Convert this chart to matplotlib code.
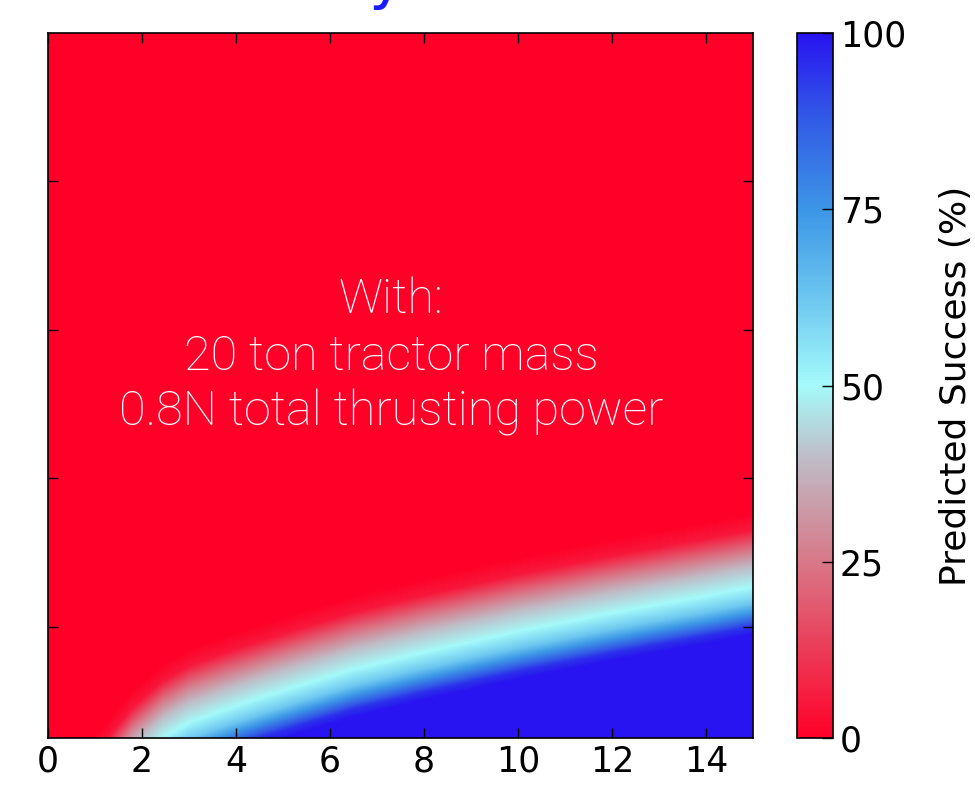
import numpy as np
import matplotlib.pyplot as plt
from matplotlib.colors import LinearSegmentedColormap

# 50% contour (x, y), y grows downwards (0 top, 95 bottom)
contour_x = [1.0, 1.8, 2.45, 3.0, 3.7, 4.5, 5.4, 6.5, 8.0, 10.0, 12.0, 14.0, 15.0]
contour_y = [104.7, 98.6, 95.0, 93.0, 91.4, 89.7, 87.9, 85.8, 83.5, 80.7, 78.2, 75.9, 74.7]
# success (%) against vertical distance from the contour, read at the right edge
profile_d = [-10.1, -7.7, -5.0, -2.7, 0.0, 2.2, 3.5, 5.4, 6.5]
profile_v = [0, 5, 25, 40, 50, 62, 75, 95, 100]

x_ticks = [0, 2, 4, 6, 8, 10, 12, 14]
y_ticks = [20, 40, 60, 80]
cbar_ticks = [0, 25, 50, 75, 100]

cmap_pos = [0.0, 0.25, 0.40, 0.50, 0.62, 0.75, 0.88, 1.0]
cmap_col = ["#ff0028", "#d87888", "#bebec8", "#a5fafa", "#6ec8f0", "#3c96e6", "#325ae6", "#2814f0"]
cmap = LinearSegmentedColormap.from_list("success", list(zip(cmap_pos, cmap_col)))

# build the field from the contour
xs = np.linspace(0, 15, 600)
ys = np.linspace(0, 95, 500)
X, Y = np.meshgrid(xs, ys)
yc = np.interp(xs, contour_x, contour_y)
slope0 = (contour_y[1] - contour_y[0]) / (contour_x[1] - contour_x[0])
yc = np.where(xs < contour_x[0], contour_y[0] + slope0 * (xs - contour_x[0]), yc)
d = Y - yc[None, :]
Z = np.interp(d, profile_d, profile_v)

plt.rcParams["xtick.direction"] = "in"
plt.rcParams["ytick.direction"] = "in"

fig = plt.figure(figsize=(9.75, 7.89), dpi=100)
ax = fig.add_axes([0.0492, 0.0646, 0.723, 0.8935])
im = ax.imshow(Z, cmap=cmap, vmin=0, vmax=100, extent=[0, 15, 95, 0],
               aspect="auto", interpolation="bilinear")
ax.set_xlim(0, 15)
ax.set_ylim(95, 0)
ax.set_xticks(x_ticks)
ax.set_yticks(y_ticks)
ax.set_yticklabels([])
ax.tick_params(axis="both", top=True, right=True, length=7, width=1, labelsize=25, pad=5)
for s in ax.spines.values():
    s.set_linewidth(1.2)

ax.text(7.3, 43.6, "With:\n20 ton tractor mass\n0.8N total thrusting power",
        color="white", fontsize=35, ha="center", va="center", linespacing=1.27,
        family=["Roboto", "DejaVu Sans"], fontweight="light")

cax = fig.add_axes([0.8174, 0.0646, 0.0369, 0.8935])
cb = fig.colorbar(im, cax=cax, ticks=cbar_ticks)
cb.ax.tick_params(direction="in", length=8, width=1, labelsize=25, pad=5)
cb.outline.set_linewidth(1.2)
cb.set_label("Predicted Success (%)", fontsize=26, labelpad=24)

# cut-off title at the very top
fig.text(0.396, 1.004, "y", color="#1a1aff", fontsize=44,
         ha="center", va="baseline")

plt.savefig("out.png", dpi=100)
